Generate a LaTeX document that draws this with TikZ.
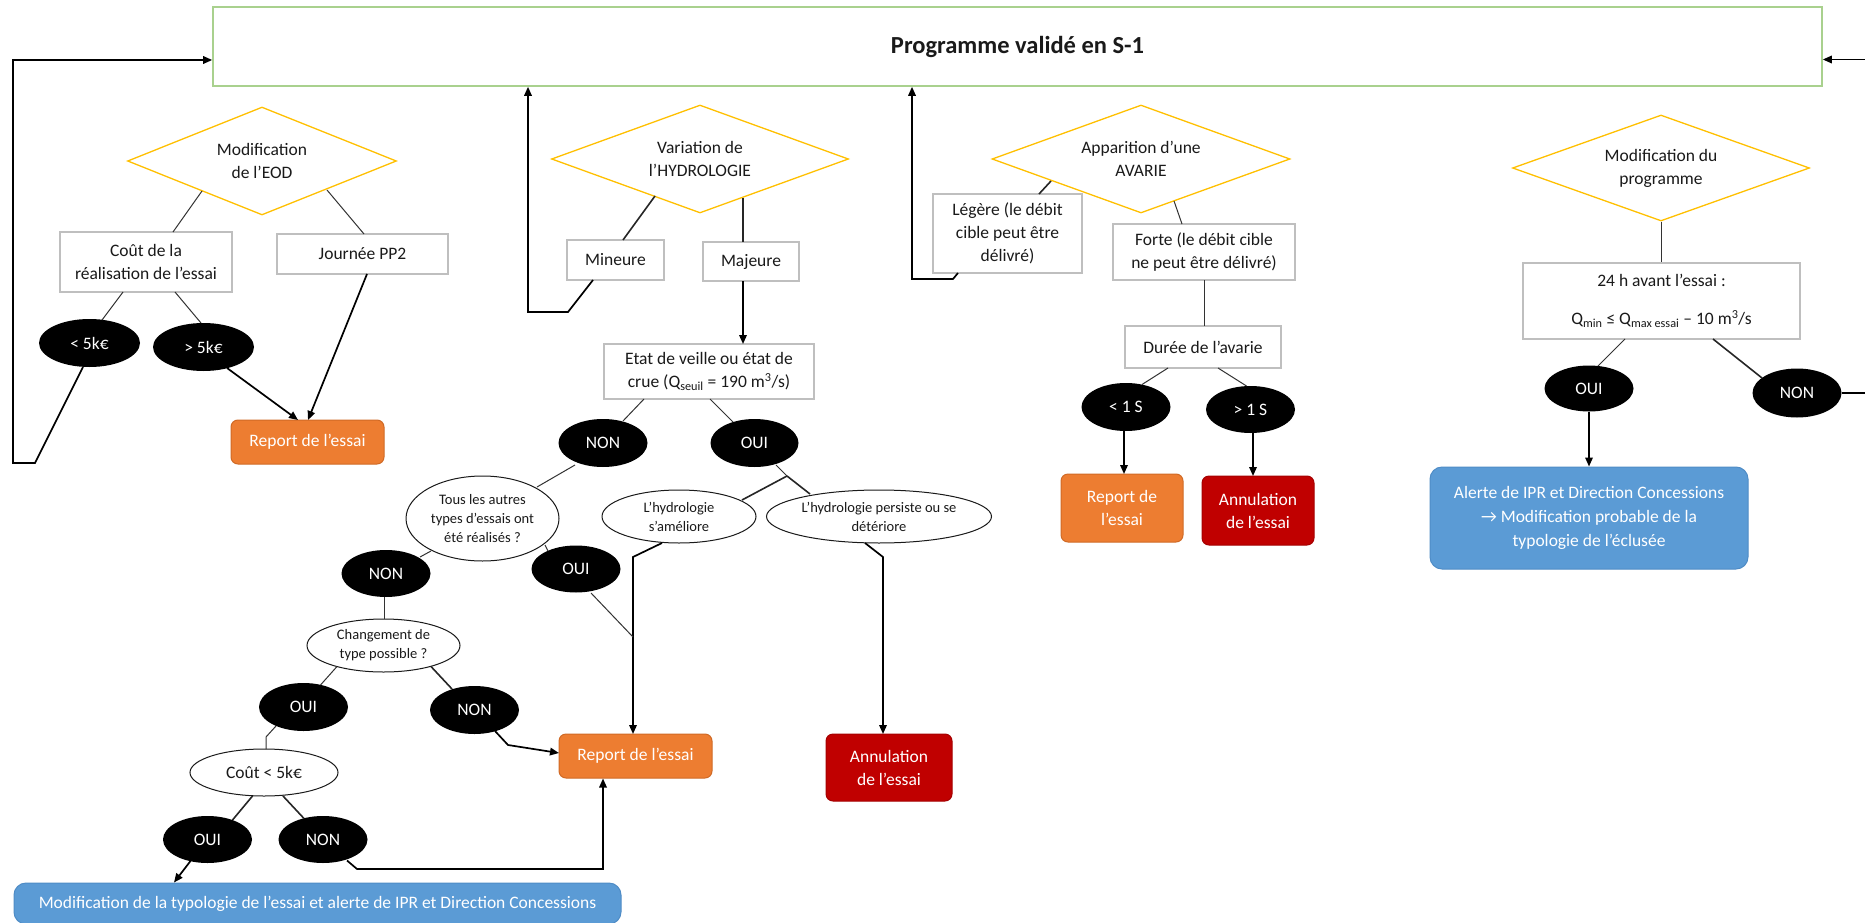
\documentclass[tikz,border=0pt]{standalone}
\usepackage{fontspec}
\setmainfont{Carlito}
\usetikzlibrary{shapes.geometric,arrows.meta,calc}

\definecolor{diaGold}{HTML}{FFC000}
\definecolor{progGreen}{HTML}{A9D18E}
\definecolor{boxGray}{HTML}{BFBFBF}
\definecolor{delayOrange}{HTML}{ED7D31}
\definecolor{delayEdge}{HTML}{D06A26}
\definecolor{cancelRed}{HTML}{C00000}
\definecolor{cancelEdge}{HTML}{A50000}
\definecolor{alertBlue}{HTML}{5B9BD5}
\definecolor{alertEdge}{HTML}{4F8CC6}
\definecolor{ink}{HTML}{1A1A1A}

\begin{document}
\begin{tikzpicture}[
  x=1pt, y=-1pt,
  base/.style={font=\fontsize{17.5}{23}\selectfont, align=center, inner sep=0pt, text=ink},
  header/.style={base, rectangle, draw=progGreen, line width=1.6pt, fill=white,
                 font=\bfseries\fontsize{24.5}{30}\selectfont},
  decision/.style={base, diamond, aspect=2.75, draw=diaGold, line width=1.3pt, fill=white},
  choice/.style={base, rectangle, draw=boxGray, line width=1.4pt, fill=white},
  answer/.style={base, ellipse, fill=black, text=white, minimum width=89pt, minimum height=48pt},
  question/.style={base, ellipse, draw=ink, line width=1pt, fill=white,
                   font=\fontsize{14.5}{19}\selectfont},
  delay/.style={base, rectangle, rounded corners=7pt, fill=delayOrange, draw=delayEdge,
                line width=1pt, text=white},
  cancel/.style={base, rectangle, rounded corners=7pt, fill=cancelRed, draw=cancelEdge,
                 line width=1pt, text=white},
  alert/.style={base, rectangle, rounded corners=12pt, fill=alertBlue, draw=alertEdge,
                line width=1pt, text=white, font=\fontsize{17.5}{24}\selectfont},
  link/.style={draw=black!80, line width=1pt},
  linkb/.style={draw=black!85, line width=1.6pt},
  flow/.style={draw=black, line width=1.7pt, -{Triangle[length=9pt,width=7.5pt]}},
]
\useasboundingbox (0,0) rectangle (1865,923);
\clip (0,0) rectangle (1865,923);
\fill[white] (0,0) rectangle (1865,923);

% ---------- header ----------
\node[header, minimum width=1609pt, minimum height=79pt] (prog) at (1017.5,46.5)
  {Programme validé en S-1\vphantom{g}};

% ---------- branch 1 : EOD ----------
\node[decision, minimum width=269pt, minimum height=108pt] (d1) at (262,161)
  {Modification\\de l’EOD};
\node[choice, minimum width=172pt, minimum height=60pt] (cout) at (146,262)
  {Coût de la\\réalisation de l’essai};
\node[choice, minimum width=171pt, minimum height=40pt] (pp2) at (362.5,254) {Journée PP2};
\node[answer, minimum width=101pt] (lt5) at (89.5,343) {< 5k€};
\node[answer, minimum width=101pt] (gt5) at (203.5,347) {> 5k€};
\node[delay, minimum width=153pt, minimum height=44pt] (rep1) at (307.5,442) {Report de l’essai};

\draw[link] ($(d1)+(-60,30)$) -- ($(cout)+(27,-30)$);
\draw[link] ($(d1)+(65,29)$) -- ($(pp2)+(1.5,-20)$);
\draw[link] ($(cout)+(-23,30)$) -- ($(lt5)+(12.5,-23)$);
\draw[link] ($(cout)+(29,30)$) -- ($(gt5)+(-2.5,-24)$);
\draw[flow] ($(gt5)+(23.5,21)$) -- ($(rep1)+(-9.5,-22)$);
\draw[flow] ($(pp2)+(4.5,20)$) -- ($(rep1)+(0.5,-22)$);
\draw[flow] ($(lt5)+(-6.5,24)$) -- (35,463) -- (13,463) |- ([yshift=-13.5pt]prog.west);

% ---------- branch 2 : hydrologie ----------
\node[decision, minimum width=297pt, minimum height=108pt] (d2) at (700,159)
  {Variation de\\l’HYDROLOGIE};
\node[choice, minimum width=97pt, minimum height=40pt] (mineure) at (615.5,260) {Mineure};
\node[choice, minimum width=96pt, minimum height=39pt] (majeure) at (751,261.5) {Majeure};
\node[choice, minimum width=210pt, minimum height=55pt] (etat) at (709,371.5)
  {Etat de veille ou état de\\crue (Q\textsubscript{seuil} = 190 m\textsuperscript{3}/s)};
\node[answer] (non1) at (603,443) {NON};
\node[answer, minimum width=88pt] (oui1) at (754.5,443) {OUI};
\node[question, minimum width=153pt, minimum height=85pt] (tous) at (482.5,518.5)
  {Tous les autres\\types d’essais ont\\été réalisés ?};
\node[question, minimum width=154pt, minimum height=53pt] (ameliore) at (679,516.5)
  {L’hydrologie\\s’améliore};
\node[question, minimum width=225pt, minimum height=53pt] (persiste) at (879,516.5)
  {L’hydrologie persiste ou se\\détériore};
\node[answer, minimum height=47pt] (oui2) at (576,569) {OUI};
\node[answer, minimum height=47pt] (non2) at (386,573.5) {NON};
\node[question, minimum width=153pt, minimum height=53pt] (chg) at (383.5,645.5)
  {Changement de\\type possible ?};
\node[answer] (oui3) at (303.5,707) {OUI};
\node[answer] (non3) at (474.5,710) {NON};
\node[question, minimum width=148pt, minimum height=47pt, font=\fontsize{17.5}{23}\selectfont]
  (cout5) at (264,772.5) {Coût < 5k€};
\node[answer, minimum height=47pt] (oui4) at (207.5,839.5) {OUI};
\node[answer, minimum height=47pt] (non4) at (323,839.5) {NON};
\node[delay, minimum width=153pt, minimum height=44pt] (rep2) at (635.5,756) {Report de l’essai};
\node[cancel, minimum width=126pt, minimum height=67pt] (annul2) at (889,767.5)
  {Annulation\\de l’essai};
\node[alert, minimum width=607pt, minimum height=41pt] (blue1) at (317.5,903.5)
  {Modification de la typologie de l’essai et alerte de IPR et Direction Concessions};

\coordinate (split) at (787,476);
\coordinate (merge) at (633,637);

\draw[linkb] ($(d2)+(-45,37)$) -- ($(mineure)+(7.5,-20)$);
\draw[flow] ($(mineure)+(-22.5,20)$) -- (568,312) -| ([xshift=-489.5pt]prog.south);
\draw[linkb] ($(d2)+(43,38.5)$) -- ($(majeure)+(-8,-19.5)$);
\draw[flow] ($(majeure)+(-8,19.5)$) -- ($(etat)+(34,-27.5)$);
\draw[link] ($(etat)+(-65,27.5)$) -- ($(non1)+(20,-22)$);
\draw[link] ($(etat)+(1,27.5)$) -- ($(oui1)+(-21.5,-21)$);
\draw[link] ($(non1)+(-28,22)$) -- ($(tous)+(54.5,-31.5)$);
\draw[link] ($(oui1)+(21.5,22)$) -- (split);
\draw[linkb] (split) -- ($(ameliore)+(63,-16.5)$);
\draw[linkb] (split) -- ($(persiste)+(-69,-22.5)$);
\draw[flow] ($(ameliore)+(-17,26.5)$) -- (633,557) -- ($(rep2)+(-2.5,-22)$);
\draw[link] ($(oui2)+(15,24)$) -- (merge);
\draw[flow] ($(persiste)+(-14,26.5)$) -- (883,557) -- ($(annul2)+(-6,-33.5)$);
\draw[link] ($(tous)+(62.5,26.5)$) -- ($(oui2)+(-28,-18)$);
\draw[link] ($(tous)+(-51.5,32.5)$) -- ($(non2)+(34,-16.5)$);
\draw[link] ($(non2)+(-2,23.5)$) -- ($(chg)+(0.5,-26.5)$);
\draw[link] ($(chg)+(-46.5,21)$) -- ($(oui3)+(17,-22)$);
\draw[linkb] ($(chg)+(47.5,21)$) -- ($(non3)+(-22.5,-21)$);
\draw[flow] ($(non3)+(20.5,21)$) -- (508,745) -- ($(rep2)+(-76.5,-3)$);
\draw[link] ($(oui3)+(-27.5,19)$) -- (266,737) -- ($(cout5)+(2,-23.5)$);
\draw[linkb] ($(cout5)+(-11.5,23.5)$) -- ($(oui4)+(25,-19.5)$);
\draw[linkb] ($(cout5)+(19,23.5)$) -- ($(non4)+(-19,-21)$);
\draw[flow] ($(oui4)+(-17,21.5)$) -- ($(blue1)+(-143.5,-21)$);
\draw[flow] ($(non4)+(24,21)$) -- (357,869) -| ([xshift=-32.5pt]rep2.south);

% ---------- branch 3 : avarie ----------
\node[decision, minimum width=298pt, minimum height=108pt] (d3) at (1141,159)
  {Apparition d’une\\AVARIE};
\node[choice, minimum width=149pt, minimum height=79pt] (legere) at (1007.5,233.5)
  {Légère (le débit\\cible peut être\\délivré)};
\node[choice, minimum width=182pt, minimum height=56pt] (forte) at (1204,252)
  {Forte (le débit cible\\ne peut être délivré)};
\node[choice, minimum width=156pt, minimum height=42pt] (duree) at (1203,347)
  {Durée de l’avarie};
\node[answer] (lt1s) at (1126,407) {< 1 S};
\node[answer, minimum height=47pt] (gt1s) at (1250.5,409.5) {> 1 S};
\node[delay, minimum width=122pt, minimum height=68pt] (rep3) at (1122,508)
  {Report de\\l’essai};
\node[cancel, minimum width=112pt, minimum height=69pt] (annul3) at (1258,510.5)
  {Annulation\\de l’essai};

\draw[linkb] ($(d3)+(-90,22)$) -- ($(legere)+(31.5,-39.5)$);
\draw[flow] ($(legere)+(-49.5,39.5)$) -- (953,279) -| ([xshift=-105.5pt]prog.south);
\draw[link] ($(d3)+(33,42)$) -- ($(forte)+(-22,-28)$);
\draw[link] ($(forte)+(0,28)$) -- ($(duree)+(1,-21)$);
\draw[link] ($(duree)+(-35,21)$) -- ($(lt1s)+(16,-22.5)$);
\draw[link] ($(duree)+(15,21)$) -- ($(gt1s)+(-4,-23.5)$);
\draw[flow] ($(lt1s)+(-2,24)$) -- ($(rep3)+(2,-34)$);
\draw[flow] ($(gt1s)+(2.5,23.5)$) -- ($(annul3)+(-5,-34.5)$);

% ---------- branch 4 : programme ----------
\node[decision, minimum width=297pt, minimum height=106pt] (d4) at (1661,168)
  {Modification du\\programme};
\node[choice, minimum width=277pt, minimum height=76pt] (box24) at (1661.5,301)
  {24 h avant l’essai :\\[15pt]
   Q\textsubscript{min} ≤ Q\textsubscript{max essai} – 10 m\textsuperscript{3}/s};
\node[answer, minimum height=46pt] (oui5) at (1589,388.5) {OUI};
\node[answer, minimum height=49pt] (non5) at (1797,393) {NON};
\node[alert, minimum width=318pt, minimum height=102pt] (blue2) at (1589,518)
  {Alerte de IPR et Direction Concessions\\→ Modification probable de la\\typologie de l’éclusée};

\draw[link] (d4.south) -- (d4.south |- box24.north);
\draw[link] ($(box24)+(-36.5,38)$) -- ($(oui5)+(9,-22.5)$);
\draw[linkb] ($(box24)+(51.5,38)$) -- ($(non5)+(-35,-15)$);
\draw[flow] (oui5.south) -- (oui5.south |- blue2.north);
\draw[flow] (non5.east) -- (1885,393) |- ([yshift=-13pt]prog.east);

\end{tikzpicture}
\end{document}
